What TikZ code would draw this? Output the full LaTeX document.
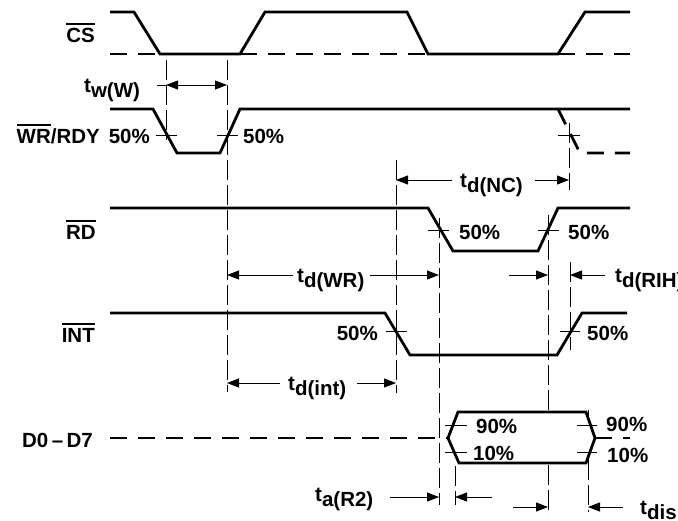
\documentclass[tikz,border=0pt]{standalone}
\usepackage{fontspec}
\setmainfont{Liberation Sans}
\usetikzlibrary{arrows.meta}
\newcommand\ovbar[1]{\setbox0\hbox{#1}\rlap{\rule[\dimexpr\ht0+3pt\relax]{\wd0}{1.8pt}}\box0}
\newcommand\tlab[1]{t\raisebox{-5pt}{#1}}
\begin{document}
\begin{tikzpicture}[x=1pt,y=-1pt,
  font=\bfseries\fontsize{20.5}{24}\selectfont,
  sig/.style={line width=2.8pt},
  dsig/.style={line width=2.8pt,dash pattern=on 17pt off 11pt},
  guide/.style={line width=0.9pt,dash pattern=on 20pt off 5pt},
  tk/.style={line width=0.9pt},
  arr/.style={line width=0.9pt,-{Triangle[length=12pt,width=9pt]}},
  lbl/.style={inner sep=0pt}]
\useasboundingbox (0,0) rectangle (678,520);
\clip (0,0) rectangle (678,520);

% ---------- guide lines ----------
\draw[guide] (166,60) -- (166,140);
\draw[guide] (227,60) -- (227,392);
\draw[guide] (396,160) -- (396,393);
\draw[guide] (569,123) -- (569,190);
\draw[guide] (439,218) -- (439,505);
\draw[guide] (548,215) -- (548,515);
\draw[guide] (570,262) -- (570,350);
\draw[guide] (455,466) -- (455,505);
\draw[guide] (588,410) -- (588,512);

% ---------- CS ----------
\node[lbl,anchor=base east] (cs) at (95,42) {\ovbar{CS}};
\draw[sig] (110,12) -- (134,12) -- (160,54) -- (240,54) -- (265,12) -- (407,12) -- (428,54) -- (558,54) -- (585,12) -- (630,12);
\draw[dsig] (110,54) -- (160,54);
\draw[dsig] (240,54) -- (428,54);
\draw[dsig] (558,54) -- (630,54);

% ---------- t_w(W) ----------
\node[lbl,anchor=base west] (tww) at (84,92) {\tlab{w(W)}};
\draw[tk] (157,85) -- (166,85);
\draw[line width=0.9pt,{Triangle[length=12pt,width=9pt]}-{Triangle[length=12pt,width=9pt]}] (166,85) -- (227,85);

% ---------- WR/RDY ----------
\node[lbl,anchor=base east] (wr) at (100,143) {\ovbar{WR}/RDY};
\draw[sig] (110,109) -- (153,109) -- (177,153) -- (220,153) -- (240,109) -- (630,109);
\draw[dsig,dash phase=0pt] (558,109) -- (580,153) -- (630,153);
\draw[tk] (156,135) -- (177,135);
\draw[tk] (217,135) -- (238,135);
\draw[tk] (558,135) -- (580,135);
\node[lbl,anchor=base east] (wr50a) at (150,143) {50\%};
\node[lbl,anchor=base west] (wr50b) at (243,143) {50\%};

% ---------- t_d(NC) ----------
\node[lbl,anchor=base west] (tdnc) at (460,187) {\tlab{d(NC)}};
\draw[arr] (452,180) -- (396,180);
\draw[arr] (535,180) -- (569,180);

% ---------- RD ----------
\node[lbl,anchor=base east] (rd) at (96,239) {\ovbar{RD}};
\draw[sig] (110,208) -- (428,208) -- (453,251) -- (538,251) -- (558,208) -- (630,208);
\draw[tk] (428,230) -- (449,230);
\draw[tk] (538,230) -- (559,230);
\node[lbl,anchor=base west] (rd50a) at (459,239) {50\%};
\node[lbl,anchor=base west] (rd50b) at (568,239) {50\%};

% ---------- t_d(WR), t_d(RIH) ----------
\node[lbl,anchor=base west] (tdwr) at (297,282) {\tlab{d(WR)}};
\draw[arr] (293,275) -- (227,275);
\draw[arr] (370,275) -- (439,275);
\draw[arr] (509,275) -- (548,275);
\draw[arr] (605,275) -- (570,275);
\node[lbl,anchor=base west] (tdrih) at (615,282) {\tlab{d(RIH)}};

% ---------- INT ----------
\node[lbl,anchor=base east] (int) at (95,342) {\ovbar{INT}};
\draw[sig] (110,313) -- (385,313) -- (410,355) -- (557,355) -- (582,313) -- (627,313);
\draw[tk] (386,331) -- (407,331);
\draw[tk] (560,331) -- (580,331);
\node[lbl,anchor=base east] (int50a) at (378,340) {50\%};
\node[lbl,anchor=base west] (int50b) at (587,340) {50\%};

% ---------- t_d(int) ----------
\node[lbl,anchor=base west] (tdint) at (288,390) {\tlab{d(int)}};
\draw[arr] (280,383) -- (227,383);
\draw[arr] (357,383) -- (396,383);

% ---------- D0-D7 ----------
\node[lbl,anchor=base east] (data) at (93,447) {D0\,–\,D7};
\draw[dsig] (110,438) -- (448,438);
\draw[sig,fill=white] (448,438) -- (458,412) -- (586,412) -- (595,438) -- (586,463) -- (459,463) -- cycle;
\draw[dsig] (595,438) -- (630,438);
\draw[tk] (445,425) -- (467,425);
\draw[tk] (445,452) -- (467,452);
\draw[tk] (577,425) -- (597,425);
\draw[tk] (577,452) -- (597,452);
\node[lbl,anchor=base west] (d90a) at (476,433) {90\%};
\node[lbl,anchor=base west] (d10a) at (473,460) {10\%};
\node[lbl,anchor=base west] (d90b) at (606,431) {90\%};
\node[lbl,anchor=base west] (d10b) at (607,462) {10\%};

% ---------- t_a(R2), t_dis ----------
\node[lbl,anchor=base west] (tar2) at (315,501) {\tlab{a(R2)}};
\draw[arr] (390,497) -- (439,497);
\draw[arr] (492,497) -- (455,497);
\draw[arr] (513,507) -- (548,507);
\draw[arr] (623,507) -- (588,507);
\node[lbl,anchor=base west] (tdis) at (640,514) {\tlab{dis}};
\end{tikzpicture}
\end{document}
